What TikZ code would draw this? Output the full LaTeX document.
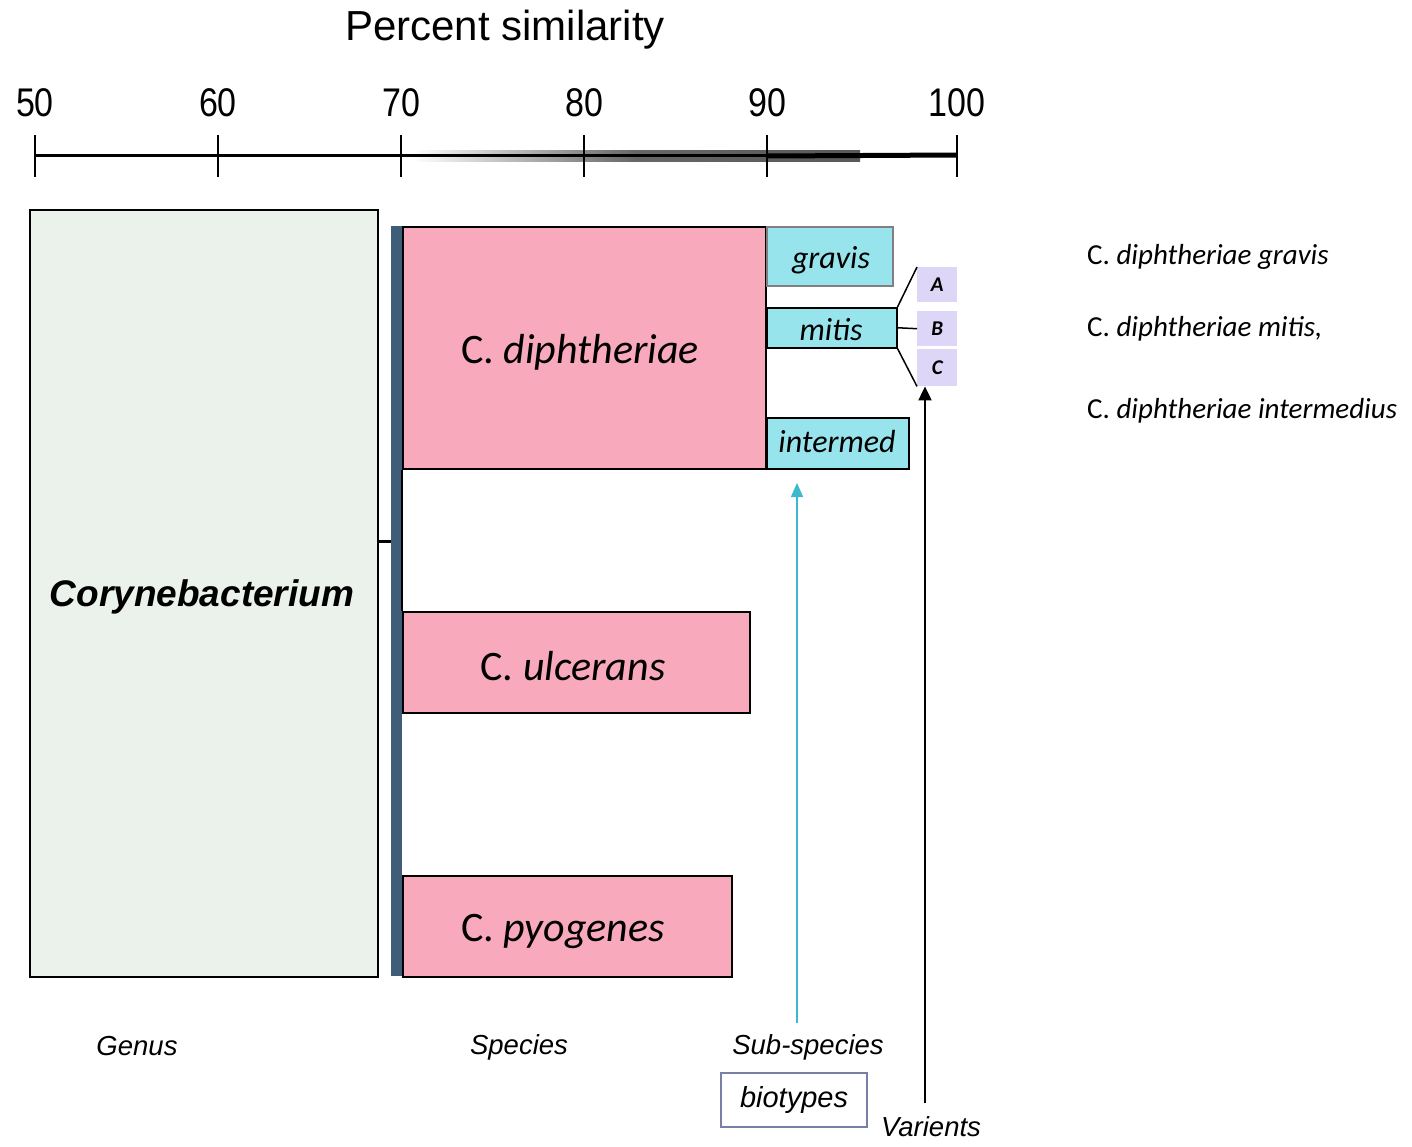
\documentclass[tikz,border=0pt]{standalone}
\usepackage{fontspec}
\setmainfont{Carlito}
\newfontfamily\arialf{Liberation Sans}
\usetikzlibrary{arrows.meta,calc}
\definecolor{genusfill}{HTML}{EBF2EB}
\definecolor{pinkc}{HTML}{F8AABC}
\definecolor{cyanc}{HTML}{98E4EC}
\definecolor{lavc}{HTML}{DDD6F6}
\definecolor{barc}{HTML}{3F5C78}
\definecolor{arrowc}{HTML}{3CB9CC}
\definecolor{biobord}{HTML}{7880A8}
\tikzset{
  fs/.style={font=\fontsize{#1}{#1}\selectfont},
  box/.style={draw=black, line width=1.5pt, inner sep=0pt, anchor=north west},
  pinkbox/.style={box, fill=pinkc},
  cyanbox/.style={box, fill=cyanc},
  lavbox/.style={inner sep=0pt, anchor=north west, fill=lavc, font=\fontsize{21}{21}\selectfont\bfseries\itshape},
  axislab/.style={font=\arialf\fontsize{40}{40}\selectfont, xscale=0.85, inner sep=0pt},
  bottomlab/.style={font=\arialf\fontsize{27.5}{27.5}\selectfont\itshape, inner sep=0pt},
  sidelab/.style={font=\fontsize{29}{29}\selectfont, inner sep=0pt, anchor=west},
}
\begin{document}
\begin{tikzpicture}[x=1pt,y=-1pt]
\useasboundingbox (0,0) rectangle (1412,1146);
% title
\node[font=\arialf\fontsize{42}{42}\selectfont, inner sep=0pt] (title) at (505,30) {Percent similarity};
% axis
\coordinate (ax0) at (35,155);
\coordinate (ax1) at (957,155);
\shade[left color=white, right color=gray!70!black, middle color=gray!80!black] (412,150) rectangle (860,161);
\draw[line width=3pt] (ax0) -- (ax1);
\draw[line width=5pt] (767,156) -- (ax1);
\foreach \v/\x in {50/35,60/218,70/401,80/584,90/767,100/957}{
  \coordinate (t\v) at (\x,155);
  \draw[line width=2pt] ($(t\v)+(0,-20)$) -- ($(t\v)+(0,22)$);
  \node[axislab] (l\v) at (\x,103) {\v};
}
% genus box
\node[box, fill=genusfill, minimum width=348pt, minimum height=767pt] (genus) at (29,209) {};
\node[font=\arialf\fontsize{37}{37}\selectfont\bfseries\itshape, inner sep=0pt] (genustxt) at (202,597) {Corynebacterium};
% species bar
\node[fill=barc, inner sep=0pt, minimum width=11pt, minimum height=750pt, anchor=north west] (bar) at (391,226) {};
\coordinate (genusjoin) at (377,541);
\draw[line width=3pt] (genusjoin) -- (genusjoin -| bar.west);
% species boxes
\node[pinkbox, minimum width=363pt, minimum height=242pt] (diph) at (402,226) {};
\node[fs=42, inner sep=0pt] (diphtxt) at (580,352) {C. \itshape diphtheriae};
\node[pinkbox, minimum width=347pt, minimum height=101pt] (ulc) at (402,611) {};
\node[fs=42, inner sep=0pt] (ulctxt) at (573,666) {C. \itshape ulcerans};
\node[pinkbox, minimum width=329pt, minimum height=101pt] (pyo) at (402,875) {};
\node[fs=42, inner sep=0pt] (pyotxt) at (563,931) {C. \itshape pyogenes};
\draw[line width=2pt] (diph.south west) -- (ulc.north west);
% sub-species boxes
\node[cyanbox, minimum width=126pt, minimum height=59pt, draw=gray] (gravis) at (766,226) {};
\node[fs=32, inner sep=0pt] at (831,260) (gravistxt) {\itshape gravis};
\node[cyanbox, minimum width=130pt, minimum height=40pt] (mitis) at (766,307) {};
\node[fs=32, inner sep=0pt] at (831,330) (mitistxt) {\itshape mitis};
\node[cyanbox, minimum width=142pt, minimum height=51pt] (inter) at (766,417) {};
\node[fs=32, inner sep=0pt] at (837,441) (intertxt) {\itshape intermed};
% variants
\node[lavbox, minimum width=40pt, minimum height=35pt] (A) at (917,267) {A};
\node[lavbox, minimum width=40pt, minimum height=35pt] (B) at (917,311) {B};
\node[lavbox, minimum width=40pt, minimum height=37pt] (C) at (917,349) {C};
\draw[line width=1.5pt] (mitis.north east) -- (A.north west);
\draw[line width=1.5pt] (mitis.east) -- (B.west);
\draw[line width=1.5pt] (mitis.south east) -- (C.south west);
% side labels
\node[sidelab] (s1) at (1087,257) {C. \itshape diphtheriae gravis};
\node[sidelab] (s2) at (1087,329) {C. \itshape diphtheriae mitis,};
\node[sidelab] (s3) at (1087,411) {C. \itshape diphtheriae intermedius};
% bottom labels
\node[bottomlab] (genuslab) at (137,1046) {Genus};
\node[bottomlab] (speclab) at (519,1047) {Species};
\node[bottomlab] (sublab) at (808,1047) {Sub-species};
\node[bottomlab, font=\arialf\fontsize{29}{29}\selectfont\itshape, draw=biobord, line width=1.5pt, minimum width=146pt, minimum height=54pt] (bio) at (794,1100) {biotypes};
\node[bottomlab] (varlab) at (931,1127) {Varients};
% arrows
\coordinate (cyanstart) at (797,1023);
\coordinate (cyanend) at (797,483);
\draw[arrowc, line width=1.5pt, -{Triangle[length=14pt,width=12pt]}] (cyanstart) -- (cyanend);
\coordinate (varstart) at (925,1103);
\draw[black, line width=2pt, -{Triangle[length=14pt,width=13pt]}] (varstart) -- (varstart |- C.south);
\end{tikzpicture}
\end{document}
